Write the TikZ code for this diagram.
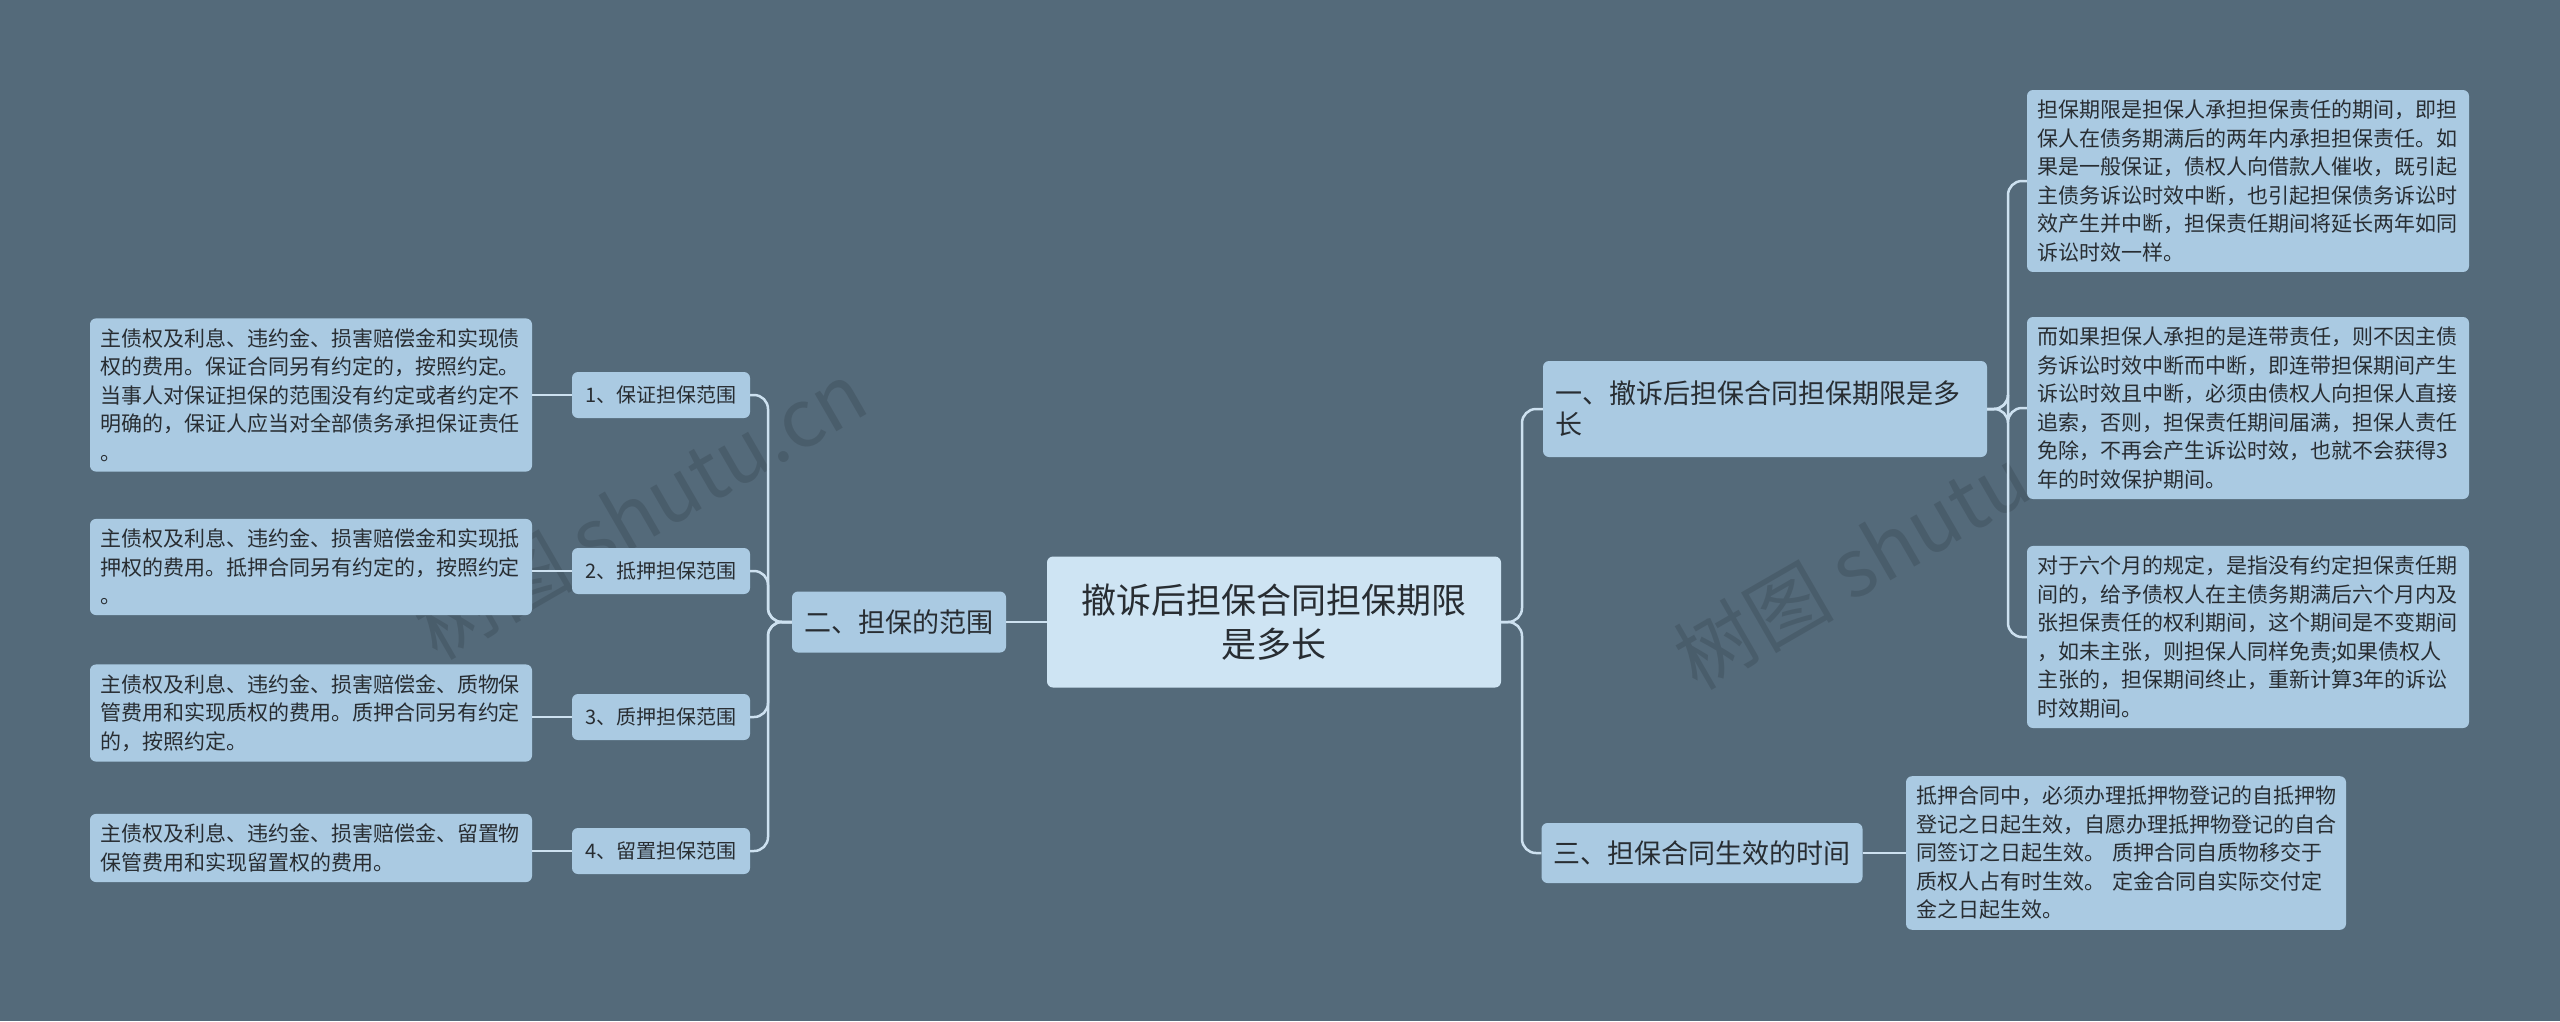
\documentclass[tikz,border=0pt]{standalone}
\usepackage{fontspec}
\setmainfont{Noto Sans CJK SC}
\usetikzlibrary{positioning}
\definecolor{bg}{RGB}{84,106,122}
\definecolor{boxc}{RGB}{170,202,226}
\definecolor{cen}{RGB}{206,228,243}
\definecolor{ln}{RGB}{205,225,240}
\definecolor{txt}{RGB}{40,45,50}
\tikzset{
 base/.style={fill=boxc,rounded corners=6pt,text=txt,inner sep=0pt,align=left},
 leafL/.style={base,text width=422pt,font=\fontsize{21}{28.5}\selectfont,inner xsep=10pt,inner ysep=10pt},
 leafR/.style={base,text width=422pt,font=\fontsize{21}{28.5}\selectfont,inner xsep=10pt,inner ysep=10pt},
 mid/.style={base,font=\fontsize{27}{31}\selectfont,inner xsep=12pt,inner ysep=10pt},
 item/.style={base,font=\fontsize{20}{24}\selectfont,inner xsep=10pt,inner ysep=10pt},
 con/.style={draw=ln,line width=2.5pt,rounded corners=14pt},
}
\begin{document}
\begin{tikzpicture}[x=1pt,y=-1pt]
\fill[bg] (0,0) rectangle (2560,1021);
\useasboundingbox (0,0) rectangle (2560,1021);
\node[opacity=0.12,rotate=30,font=\fontsize{80}{80}\selectfont,text=black] at (640,510) {树图 shutu.cn};
\node[opacity=0.12,rotate=30,font=\fontsize{80}{80}\selectfont,text=black] at (1900,540) {树图 shutu.cn};

\node[base,fill=cen,minimum width=454pt,minimum height=131pt,align=center,font=\fontsize{35}{44}\selectfont] (c) at (1274,622) {撤诉后担保合同担保期限\\是多长};

\node[mid,minimum width=214pt,minimum height=61pt,align=center] (b2) at (899,622) {二、担保的范围};
\node[item,minimum width=178pt,minimum height=46pt] (i1) at (661,395) {1、保证担保范围};
\node[item,minimum width=178pt,minimum height=46pt] (i2) at (661,571) {2、抵押担保范围};
\node[item,minimum width=178pt,minimum height=46pt] (i3) at (661,717) {3、质押担保范围};
\node[item,minimum width=178pt,minimum height=46pt] (i4) at (661,851) {4、留置担保范围};

\node[leafL] (l1) at (311,395) {主债权及利息、违约金、损害赔偿金和实现债\\权的费用。保证合同另有约定的，按照约定。\\当事人对保证担保的范围没有约定或者约定不\\明确的，保证人应当对全部债务承担保证责任\\。};
\node[leafL] (l2) at (311,567) {主债权及利息、违约金、损害赔偿金和实现抵\\押权的费用。抵押合同另有约定的，按照约定\\。};
\node[leafL] (l3) at (311,713) {主债权及利息、违约金、损害赔偿金、质物保\\管费用和实现质权的费用。质押合同另有约定\\的，按照约定。};
\node[leafL] (l4) at (311,848) {主债权及利息、违约金、损害赔偿金、留置物\\保管费用和实现留置权的费用。};

\node[mid,text width=420pt,minimum height=96pt] (b1) at (1765,409) {一、撤诉后担保合同担保期限是多\\长};
\node[mid,minimum width=319pt,minimum height=60pt,align=center] (b3) at (1702,853) {三、担保合同生效的时间};

\node[leafR] (r1) at (2248,181) {担保期限是担保人承担担保责任的期间，即担\\保人在债务期满后的两年内承担担保责任。如\\果是一般保证，债权人向借款人催收，既引起\\主债务诉讼时效中断，也引起担保债务诉讼时\\效产生并中断，担保责任期间将延长两年如同\\诉讼时效一样。};
\node[leafR] (r2) at (2248,408) {而如果担保人承担的是连带责任，则不因主债\\务诉讼时效中断而中断，即连带担保期间产生\\诉讼时效且中断，必须由债权人向担保人直接\\追索，否则，担保责任期间届满，担保人责任\\免除，不再会产生诉讼时效，也就不会获得3\\年的时效保护期间。};
\node[leafR] (r3) at (2248,637) {对于六个月的规定，是指没有约定担保责任期\\间的，给予债权人在主债务期满后六个月内及\\张担保责任的权利期间，这个期间是不变期间\\，如未主张，则担保人同样免责;如果债权人\\主张的，担保期间终止，重新计算3年的诉讼\\时效期间。};
\node[leafR,text width=420pt] (r4) at (2126,853) {抵押合同中，必须办理抵押物登记的自抵押物\\登记之日起生效，自愿办理抵押物登记的自合\\同签订之日起生效。~质押合同自质物移交于\\质权人占有时生效。~定金合同自实际交付定\\金之日起生效。};

% connectors
\draw[con] (c.east) -- (1522,622) |- (b1.west);
\draw[con] (c.east) -- (1522,622) |- (b3.west);
\draw[con] (b1.east) -- (2008,409) |- (r1.west);
\draw[con] (b1.east) -- (2008,409) |- (r2.west);
\draw[con] (b1.east) -- (2008,409) |- (r3.west);
\draw[con] (b3.east) -- (r4.west);
\draw[con] (c.west) -- (b2.east);
\draw[con] (b2.west) -- (768,622) |- (i1.east);
\draw[con] (b2.west) -- (768,622) |- (i2.east);
\draw[con] (b2.west) -- (768,622) |- (i3.east);
\draw[con] (b2.west) -- (768,622) |- (i4.east);
\draw[con] (i1.west) -- (i1.west -| l1.east);
\draw[con] (i2.west) -- (i2.west -| l2.east);
\draw[con] (i3.west) -- (i3.west -| l3.east);
\draw[con] (i4.west) -- (i4.west -| l4.east);
\end{tikzpicture}
\end{document}
